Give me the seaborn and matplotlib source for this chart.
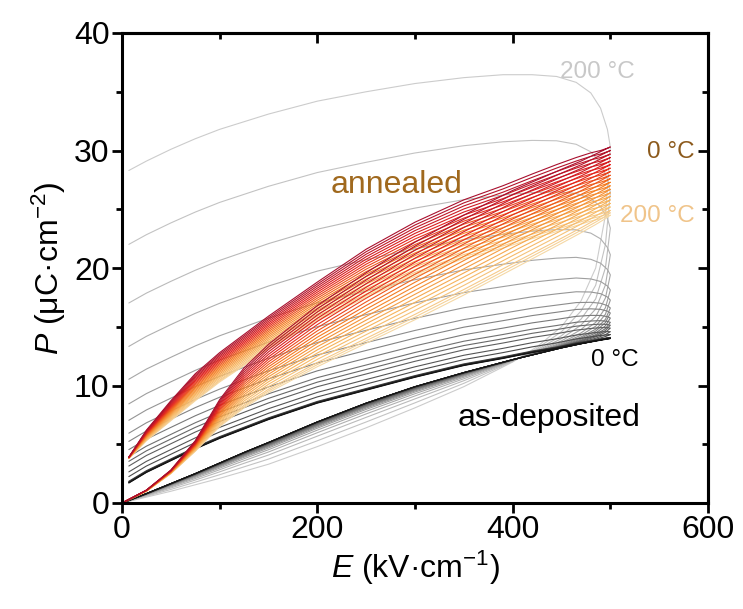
import numpy as np
import pandas as pd
import matplotlib
matplotlib.use("Agg")
import matplotlib.pyplot as plt
import seaborn as sns
from matplotlib.colors import LinearSegmentedColormap, to_hex
from matplotlib.ticker import MultipleLocator

# ---------------- data ----------------
temps = [0, 10, 20, 30, 40, 50, 60, 70, 80, 90, 100,
         110, 120, 130, 140, 150, 160, 170, 180, 190, 200]

# annealed film: P at 500 kV/cm for each temperature
ann_pmax = [30.3, 30.0, 29.7, 29.4, 29.1, 28.8, 28.5, 28.2, 27.9, 27.6, 27.3,
            27.0, 26.7, 26.4, 26.1, 25.8, 25.5, 25.2, 24.9, 24.7, 24.5]

# as-deposited film: P at the end of discharge (E ~ 7 kV/cm) for each temperature
dep_pr = [1.65, 1.68, 1.70, 1.72, 1.75, 1.8, 2.2, 2.6, 3.1, 3.5, 3.9,
          4.5, 5.2, 5.9, 7.0, 8.4, 10.5, 13.3, 17.0, 22.0, 28.3]

# field points of the charging (0 -> 500) and discharging (500 -> 7) branches
E_charge = [0, 25, 50, 75, 100, 125, 150, 200, 250, 300, 350, 400, 425, 450, 470, 485, 495, 500]
E_discharge = [500, 497, 490, 480, 465, 445, 420, 390, 350, 300, 250, 200, 150, 100, 75, 50, 25, 7]

# annealed, 0 °C and 200 °C branches
ann_charge_0C = [0, 1.1, 2.8, 5.3, 8.8, 11.5, 13.5, 16.8, 19.6, 22.2, 24.5, 26.6, 27.5, 28.4, 29.1, 29.7, 30.1, 30.3]
ann_charge_200C = [0, 1.0, 2.5, 4.4, 6.5, 8.1, 9.4, 11.6, 13.6, 15.6, 17.7, 19.9, 21.0, 22.1, 23.0, 23.7, 24.2, 24.5]
ann_discharge_0C = [30.3, 30.2, 30.0, 29.8, 29.4, 28.8, 28.0, 27.0, 25.8, 23.9, 21.6, 18.8, 15.9, 12.8, 11.0, 8.7, 6.2, 3.9]
ann_discharge_200C = [24.5, 24.4, 24.2, 24.0, 23.6, 23.1, 22.5, 21.7, 20.8, 19.3, 17.5, 15.5, 13.1, 10.3, 8.7, 7.0, 5.3, 3.8]

# as-deposited, 0 °C and 200 °C branches
dep_charge_0C = [0, 0.8, 1.65, 2.5, 3.4, 4.3, 5.15, 6.9, 8.5, 9.9, 11.1, 12.2, 12.7, 13.2, 13.55, 13.8, 13.95, 14.0]
dep_charge_200C = [0, 0.5, 1.0, 1.55, 2.1, 2.7, 3.3, 4.8, 6.4, 8.1, 9.9, 12.0, 13.3, 15.0, 17.2, 20.0, 24.5, 30.3]
dep_discharge_0C = [14.0, 13.95, 13.85, 13.7, 13.5, 13.15, 12.8, 12.3, 11.7, 10.7, 9.6, 8.5, 7.1, 5.5, 4.6, 3.6, 2.6, 1.7]
dep_discharge_200C = [30.3, 31.8, 33.6, 34.9, 35.8, 36.3, 36.45, 36.45, 36.2, 35.7, 35.0, 34.2, 33.1, 31.8, 31.0, 30.1, 29.1, 28.3]

# ---------------- build long table ----------------
ann_cmap = LinearSegmentedColormap.from_list(
    "ann", ["#a8102e", "#e3201b", "#f47b20", "#f7b35a", "#f5d8a5"])

rows = []
palette = {}
order_dep, order_ann = [], []
Ec, Ed = np.array(E_charge), np.array(E_discharge)
E_loop = np.concatenate([Ec, Ed])

for i, T in enumerate(temps):
    frac = T / 200.0
    # as-deposited
    w = (dep_pr[i] - dep_pr[0]) / (dep_pr[-1] - dep_pr[0])
    pc = (1 - w) * np.array(dep_charge_0C) + w * np.array(dep_charge_200C)
    pd_ = (1 - w) * np.array(dep_discharge_0C) + w * np.array(dep_discharge_200C)
    key = f"dep_{T:03d}"
    for k, (e, p) in enumerate(zip(E_loop, np.concatenate([pc, pd_]))):
        rows.append((key, k, e, p))
    g = 0.08 + 0.72 * frac
    palette[key] = to_hex((g, g, g))
    order_dep.append(key)
    # annealed
    w = (ann_pmax[0] - ann_pmax[i]) / (ann_pmax[0] - ann_pmax[-1])
    pc = (1 - w) * np.array(ann_charge_0C) + w * np.array(ann_charge_200C)
    pd_ = (1 - w) * np.array(ann_discharge_0C) + w * np.array(ann_discharge_200C)
    key = f"ann_{T:03d}"
    for k, (e, p) in enumerate(zip(E_loop, np.concatenate([pc, pd_]))):
        rows.append((key, k, e, p))
    palette[key] = to_hex(ann_cmap(frac))
    order_ann.append(key)

df = pd.DataFrame(rows, columns=["curve", "idx", "E", "P"])
hue_order = order_dep[::-1] + order_ann[::-1]

# ---------------- plot ----------------
sns.set_theme(style="ticks")
plt.rcParams["font.family"] = ["Liberation Sans", "DejaVu Sans"]
plt.rcParams["mathtext.fontset"] = "custom"
plt.rcParams["mathtext.rm"] = "Liberation Sans"
plt.rcParams["mathtext.it"] = "Liberation Sans:italic"
for k in ["text.color", "axes.labelcolor", "xtick.color", "ytick.color", "axes.edgecolor"]:
    plt.rcParams[k] = "black"

fig = plt.figure(figsize=(7.43, 6.09), dpi=100)
ax = fig.add_axes([122 / 743, 1 - 503 / 609, (708 - 122) / 743, (503 - 33) / 609])

sns.lineplot(data=df, x="E", y="P", hue="curve", hue_order=hue_order,
             palette=palette, sort=False, estimator=None, units="curve",
             legend=False, lw=0.8, ax=ax)

ax.set_xlim(0, 600)
ax.set_ylim(0, 40)
ax.xaxis.set_major_locator(MultipleLocator(200))
ax.xaxis.set_minor_locator(MultipleLocator(100))
ax.yaxis.set_major_locator(MultipleLocator(10))
ax.yaxis.set_minor_locator(MultipleLocator(5))
fs = 23
ax.tick_params(which="major", direction="out", length=7, width=2, labelsize=fs, pad=2)
ax.tick_params(which="minor", direction="out", length=4, width=2)
for s in ax.spines.values():
    s.set_linewidth(2.2)
    s.set_visible(True)

secx = ax.secondary_xaxis("top")
secx.xaxis.set_major_locator(MultipleLocator(200))
secx.xaxis.set_minor_locator(MultipleLocator(100))
secx.tick_params(which="major", direction="in", length=7, width=2, labelsize=0, labeltop=False)
secx.tick_params(which="minor", direction="in", length=4, width=2)
secx.spines["top"].set_linewidth(2.2)
secy = ax.secondary_yaxis("right")
secy.yaxis.set_major_locator(MultipleLocator(10))
secy.yaxis.set_minor_locator(MultipleLocator(5))
secy.tick_params(which="major", direction="in", length=7, width=2, labelsize=0, labelright=False)
secy.tick_params(which="minor", direction="in", length=4, width=2)
secy.spines["right"].set_linewidth(2.2)

ax.set_xlabel(r"$E$ (kV·cm$^{-1}$)", fontsize=fs, labelpad=2)
ax.set_ylabel(r"$P$ (μC·cm$^{-2}$)", fontsize=fs, labelpad=4)

ax.text(487, 36.7, "200 °C", color="#c8c8c8", fontsize=17.5, ha="center", va="center")
ax.text(538, 29.9, "0 °C", color="#8c5a1c", fontsize=17.5, ha="left", va="center")
ax.text(510, 24.4, "200 °C", color="#f0c48a", fontsize=17.5, ha="left", va="center")
ax.text(281, 27.1, "annealed", color="#a0691e", fontsize=23, ha="center", va="center")
ax.text(505, 12.2, "0 °C", color="black", fontsize=17.5, ha="center", va="center")
ax.text(437, 7.2, "as-deposited", color="black", fontsize=23, ha="center", va="center")

fig.savefig("out.png", dpi=100)
